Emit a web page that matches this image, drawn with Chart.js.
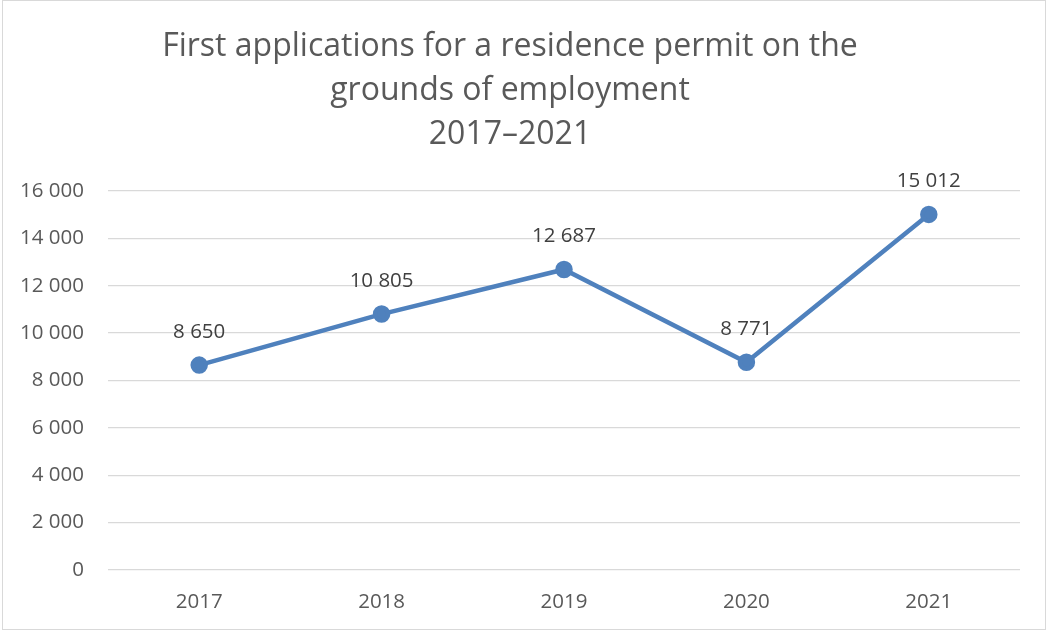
<!DOCTYPE html>
<html>
<head>
<meta charset="utf-8">
<script src="https://cdn.jsdelivr.net/npm/chart.js@4"></script>
<style>
  html, body { margin: 0; padding: 0; background: #fff; }
  #wrap { position: relative; width: 1049px; height: 632px; }
</style>
</head>
<body>
<div id="wrap"><canvas id="chart"></canvas></div>
<script>
const years = ['2017', '2018', '2019', '2020', '2021'];
const applications = [8650, 10805, 12687, 8771, 15012];
const titleLines = ['First applications for a residence permit on the', 'grounds of employment', '2017\u20132021'];
const yTicks = { min: 0, max: 16000, step: 2000 };

const fmt = (v) => String(v).replace(/\B(?=(\d{3})+(?!\d))/g, ' ');
const FONT = '"Open Sans", "DejaVu Sans", sans-serif';

const pointLabels = {
  id: 'pointLabels',
  afterDatasetsDraw(chart) {
    const ctx = chart.ctx;
    const meta = chart.getDatasetMeta(0);
    ctx.save();
    ctx.font = '20.5px ' + FONT;
    ctx.fillStyle = '#404040';
    ctx.textAlign = 'center';
    ctx.textBaseline = 'middle';
    meta.data.forEach((pt, i) => {
      ctx.fillText(fmt(applications[i]), pt.x, pt.y - 33);
    });
    ctx.restore();
  }
};

const frame = {
  id: 'frame',
  afterDraw(chart) {
    const ctx = chart.ctx;
    ctx.save();
    ctx.strokeStyle = '#d9d9d9';
    ctx.lineWidth = 1;
    ctx.strokeRect(2.5, 0.5, 1043, 629);
    ctx.restore();
  }
};

new Chart(document.getElementById('chart'), {
  type: 'line',
  data: {
    labels: years,
    datasets: [{
      label: 'Applications',
      data: applications,
      borderColor: '#4f81bd',
      backgroundColor: '#4f81bd',
      borderWidth: 4.5,
      pointRadius: 6.5,
      pointHoverRadius: 6.5,
      pointBackgroundColor: '#4f81bd',
      pointBorderColor: '#4f81bd',
      tension: 0
    }]
  },
  options: {
    responsive: true,
    maintainAspectRatio: false,
    animation: false,
    layout: { padding: { left: 0, right: 29, top: 0, bottom: 0 } },
    plugins: {
      legend: { display: false },
      tooltip: { enabled: false },
      title: {
        display: true,
        text: titleLines,
        color: '#595959',
        font: { family: FONT, size: 32, weight: 'normal', lineHeight: 1.375 },
        padding: { top: 25, bottom: 34 }
      }
    },
    scales: {
      x: {
        offset: true,
        afterFit(scale) { scale.height = 62; },
        grid: { display: false, drawTicks: false },
        border: { display: false },
        ticks: { color: '#595959', font: { family: FONT, size: 20.5 }, padding: 20 }
      },
      y: {
        min: yTicks.min,
        max: yTicks.max,
        afterFit(scale) { scale.width = 108; },
        grid: { color: '#d9d9d9', lineWidth: 1.3, drawTicks: false },
        border: { display: false },
        ticks: {
          stepSize: yTicks.step,
          color: '#595959',
          font: { family: FONT, size: 20.5 },
          padding: 24,
          callback: (v) => fmt(v)
        }
      }
    }
  },
  plugins: [pointLabels, frame]
});
</script>
</body>
</html>
